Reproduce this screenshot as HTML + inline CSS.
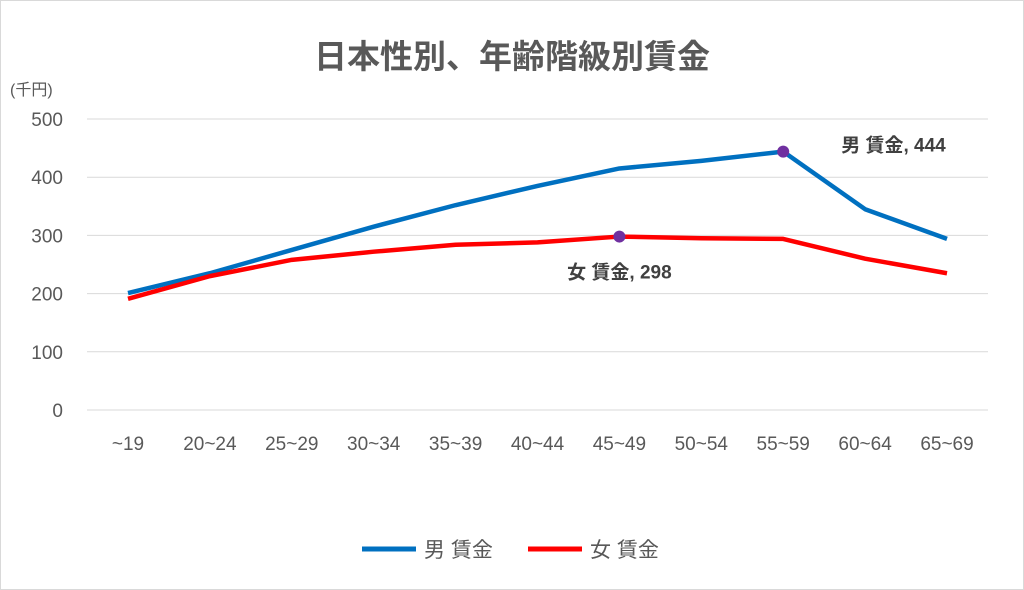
<!DOCTYPE html>
<html><head><meta charset="utf-8"><style>
body{margin:0;background:#fff;}
svg{display:block;font-family:"Liberation Sans","Noto Sans CJK JP",sans-serif;}
</style></head><body>
<svg width="1024" height="590">
<rect x="0.5" y="0.5" width="1023" height="589" fill="#fff" stroke="#d9d9d9"/>
<text x="512" y="68" text-anchor="middle" font-size="33" font-weight="bold" fill="#595959">日本性別、年齢階級別賃金</text>
<text x="10" y="95" font-size="16" fill="#595959">(千円)</text>
<g id="grid"></g><g id="ylab"></g><g id="xlab"></g><g id="lines"></g>
<g>
<line x1="362" y1="549" x2="416" y2="549" stroke="#0070c0" stroke-width="5"/>
<text x="424" y="557" font-size="21" fill="#595959">男 賃金</text>
<line x1="528" y1="549" x2="582" y2="549" stroke="#ff0000" stroke-width="5"/>
<text x="590" y="557" font-size="21" fill="#595959">女 賃金</text>
</g>
</svg>
<script>
const categories=["~19","20~24","25~29","30~34","35~39","40~44","45~49","50~54","55~59","60~64","65~69"];
const maleValues=[201,235,275,315,352,385,415,428,444,345,294];
const femaleValues=[191,230,258,272,284,288,298,295,294,260,235];
const yTicks=[0,100,200,300,400,500];
const NS="http://www.w3.org/2000/svg";
const x=i=>128+i*81.9;
const y=v=>410-v*0.582;
function mk(t,a,p){const e=document.createElementNS(NS,t);for(const k in a)e.setAttribute(k,a[k]);document.getElementById(p).appendChild(e);return e;}
yTicks.forEach(t=>{
 const l=mk('line',{x1:87,x2:988,y1:y(t),y2:y(t),stroke:'#d9d9d9','stroke-width':1},'grid');
 
 
 const tx=mk('text',{x:63,y:y(t)+7,'text-anchor':'end','font-size':19,fill:'#595959'},'ylab');tx.textContent=t;
 
 
});
categories.forEach((c,i)=>{
 const tx=mk('text',{x:x(i),y:450,'text-anchor':'middle','font-size':19,fill:'#595959'},'xlab');tx.textContent=c;
 
 
});
function series(vals,col,name){
 const p=mk('polyline',{points:vals.map((v,i)=>x(i)+','+y(v)).join(' '),fill:'none',stroke:col,'stroke-width':4.5,'stroke-linejoin':'round'},'lines');
 
 
 let mi=0;vals.forEach((v,i)=>{if(v>vals[mi])mi=i;});
 const c=mk('circle',{cx:x(mi),cy:y(vals[mi]),r:6,fill:'#7030a0'},'lines');
 
 
 return mi;
}
const mm=series(maleValues,'#0070c0','male');
const fm=series(femaleValues,'#ff0000','female');
let t=mk('text',{x:x(mm)+58,y:y(maleValues[mm])-0,'font-size':19,'font-weight':'bold',fill:'#404040'},'lines');
t.textContent='男 賃金, '+maleValues[mm];


t=mk('text',{x:x(fm),y:y(femaleValues[fm])+42,'text-anchor':'middle','font-size':19,'font-weight':'bold',fill:'#404040'},'lines');
t.textContent='女 賃金, '+femaleValues[fm];


</script>
</body></html>
